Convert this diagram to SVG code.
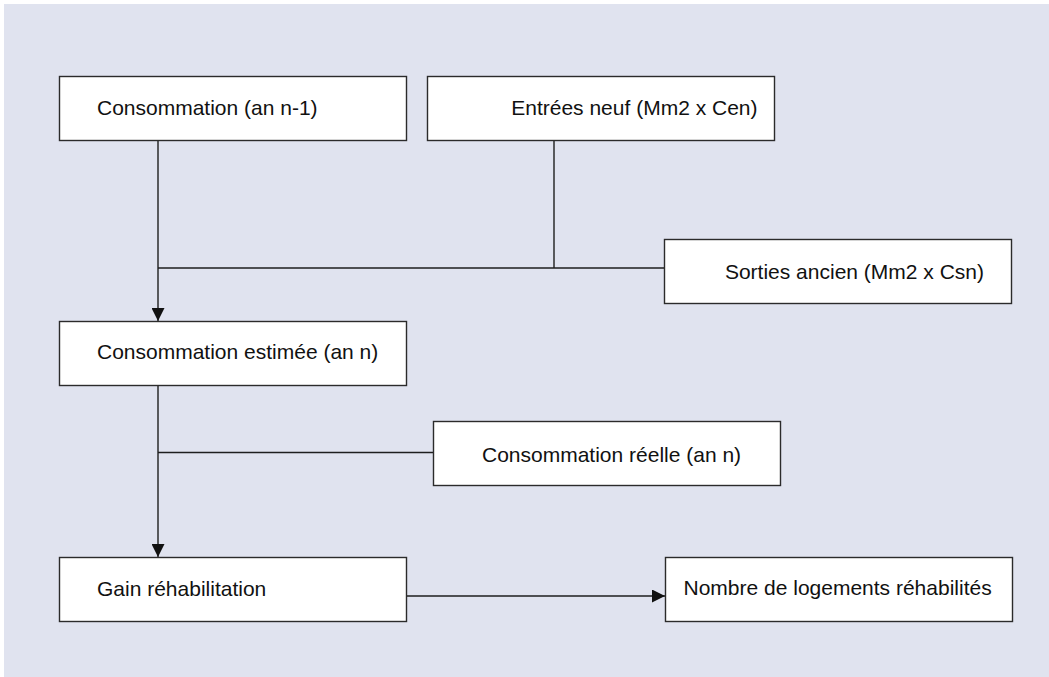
<svg xmlns="http://www.w3.org/2000/svg" width="1049" height="677" viewBox="0 0 1049 677">
<style>
.box{fill:#ffffff;stroke:#2b2b2b;stroke-width:1.4}
.t{font-family:"Liberation Sans",Arial,sans-serif;font-size:21px;fill:#111111}
.c{fill:none;stroke:#1e1e1e;stroke-width:1.4}
</style>
<defs>
<marker id="ah" viewBox="0 0 10 10" refX="10" refY="5" markerWidth="13" markerHeight="13" markerUnits="userSpaceOnUse" orient="auto">
<path d="M0,0 L10,5 L0,10 z" fill="#111111"/>
</marker>
</defs>
<rect x="0" y="0" width="1049" height="677" fill="#ffffff"/>
<rect x="4" y="4" width="1045" height="673" fill="#e0e3ef"/>
<g id="connectors">
<line class="c" x1="158" y1="140.5" x2="158" y2="321" marker-end="url(#ah)"/>
<line class="c" x1="554" y1="140.5" x2="554" y2="268"/>
<line class="c" x1="158" y1="268" x2="664.5" y2="268"/>
<line class="c" x1="158" y1="386" x2="158" y2="557" marker-end="url(#ah)"/>
<line class="c" x1="158" y1="452.5" x2="433.5" y2="452.5"/>
<line class="c" x1="407" y1="596" x2="665" y2="596" marker-end="url(#ah)"/>
</g>
<g id="n1"><rect class="box" x="59.5" y="76.5" width="347" height="64"/><text class="t" x="97" y="115">Consommation (an n-1)</text></g>
<g id="n2"><rect class="box" x="427.5" y="76.5" width="347" height="64"/><text class="t" x="757.5" y="115" text-anchor="end">Entrées neuf (Mm2 x Cen)</text></g>
<g id="n3"><rect class="box" x="664.5" y="239.5" width="347" height="64"/><text class="t" x="984" y="279" text-anchor="end">Sorties ancien (Mm2 x Csn)</text></g>
<g id="n4"><rect class="box" x="59.5" y="321.5" width="347" height="64"/><text class="t" x="97" y="359">Consommation estimée (an n)</text></g>
<g id="n5"><rect class="box" x="433.5" y="421.5" width="347" height="64"/><text class="t" x="482" y="461.5">Consommation réelle (an n)</text></g>
<g id="n6"><rect class="box" x="59.5" y="557.5" width="347" height="64"/><text class="t" x="97" y="596">Gain réhabilitation</text></g>
<g id="n7"><rect class="box" x="665.5" y="557.5" width="347" height="64"/><text class="t" x="683.5" y="595">Nombre de logements réhabilités</text></g>
</svg>
